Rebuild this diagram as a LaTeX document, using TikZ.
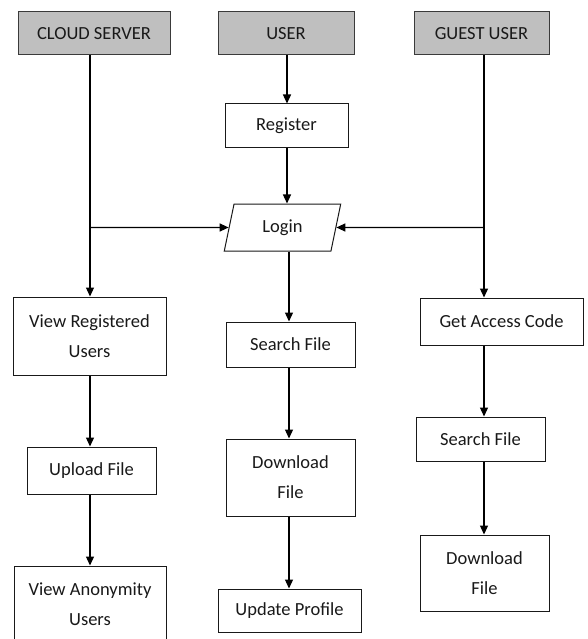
\documentclass[tikz,border=0pt]{standalone}
\usepackage{fontspec}
\setmainfont{Carlito}
\usetikzlibrary{arrows.meta,shapes.geometric}
\definecolor{headgray}{HTML}{BFBFBF}
\definecolor{edgegray}{HTML}{3A3A3A}
\tikzset{
  every node/.style={font=\fontsize{18.5}{30}\selectfont, text=black!90},
  head/.style={draw=edgegray, line width=1pt, fill=headgray, inner sep=0pt},
  stepbox/.style={draw=black!90, line width=1pt, fill=white, inner sep=0pt, align=center},
  flow/.style={draw=black, line width=1.3pt, -{Triangle[length=9pt,width=8pt]}},
  plain/.style={draw=black, line width=1.3pt},
}
\begin{document}
\begin{tikzpicture}[x=1pt,y=-1pt]
\clip (0,0) rectangle (587,639);
\fill[white] (0,0) rectangle (587,639);

% column headers
\node[head, minimum width=152pt, minimum height=43pt] (cloud) at (94,33.5) {CLOUD SERVER};
\node[head, minimum width=136pt, minimum height=43pt] (user)  at (286,33.5) {USER};
\node[head, minimum width=135pt, minimum height=43pt] (guest) at (481.5,33.5) {GUEST USER};

% user column
\node[stepbox, minimum width=123pt, minimum height=44pt] (register) at (286.5,126) {Register};
\node[stepbox, trapezium, trapezium left angle=75.7, trapezium right angle=104.3,
      trapezium stretches=true, minimum width=117pt, minimum height=47pt] (login) at (282.5,227.5) {Login};
\node[stepbox, minimum width=129pt, minimum height=45pt] (search2) at (290.5,344.5) {Search File};
\node[stepbox, minimum width=129pt, minimum height=77pt] (download2) at (290.5,477.5) {Download\\File};
\node[stepbox, minimum width=143pt, minimum height=43pt] (update) at (289.5,610.5) {Update Profile};

% cloud server column
\node[stepbox, minimum width=153pt, minimum height=78pt] (vreg) at (89.5,336) {View Registered\\Users};
\node[stepbox, minimum width=129pt, minimum height=47pt] (upload) at (91.5,470.5) {Upload File};
\node[stepbox, minimum width=152pt, minimum height=76pt] (vanon) at (90,604) {View Anonymity\\Users};

% guest user column
\node[stepbox, minimum width=163pt, minimum height=47pt] (access) at (501.5,321.5) {Get Access Code};
\node[stepbox, minimum width=129pt, minimum height=44pt] (search3) at (480.5,439) {Search File};
\node[stepbox, minimum width=129pt, minimum height=76pt] (download3) at (484.5,573) {Download\\File};

% branch points on the side columns, level with the login box
\coordinate (cj) at (90,227.5);
\coordinate (gj) at (484,227.5);

% cloud server flow
\draw[plain] (cloud.south -| cj) -- (cj);
\draw[flow] (cj) -- (cj |- vreg.north);
\draw[flow] (cj) -- (login);
\draw[flow] (vreg.south -| cj) -- (upload.north -| cj);
\draw[flow] (upload.south -| cj) -- (vanon.north -| cj);

% user flow
\draw[flow] (user.south -| 287,0) -- (register.north -| 287,0);
\draw[flow] (register.south -| 287,0) -- (login.north -| 287,0);
\draw[flow] (login.south -| 289,0) -- (search2.north -| 289,0);
\draw[flow] (search2.south -| 289,0) -- (download2.north -| 289,0);
\draw[flow] (download2.south -| 289,0) -- (update.north -| 289,0);

% guest user flow
\draw[plain] (guest.south -| gj) -- (gj);
\draw[flow] (gj) -- (gj |- access.north);
\draw[flow] (gj) -- (login);
\draw[flow] (access.south -| gj) -- (search3.north -| gj);
\draw[flow] (search3.south -| gj) -- (download3.north -| gj);
\end{tikzpicture}
\end{document}
